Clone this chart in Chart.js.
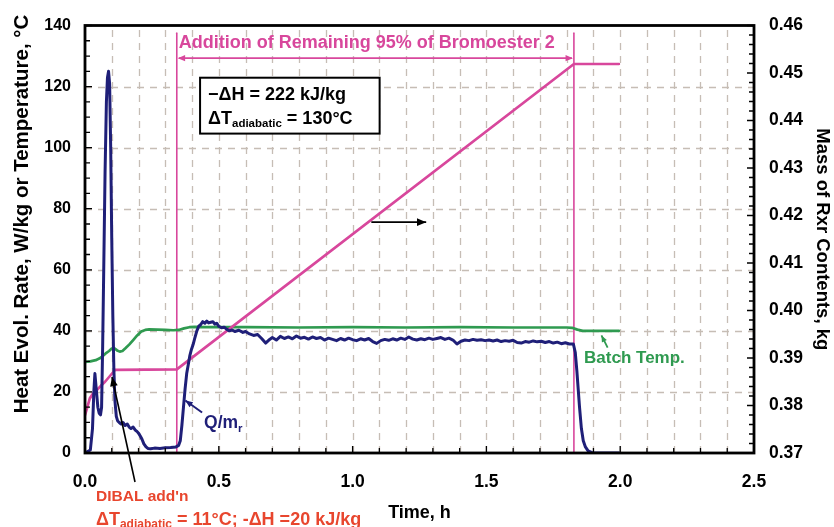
<!DOCTYPE html>
<html><head><meta charset="utf-8">
<script src="https://cdn.jsdelivr.net/npm/chart.js@4.4.1/dist/chart.umd.min.js"></script>
<style>html,body{margin:0;padding:0;background:#fff;}canvas{display:block;}</style>
</head><body>
<canvas id="c" width="834" height="527"></canvas>
<script>
// ---------- DATA ----------
const xTicks = [0.0, 0.5, 1.0, 1.5, 2.0, 2.5];
const yTicks = [0, 20, 40, 60, 80, 100, 120, 140];
const y1Ticks = [0.37, 0.38, 0.39, 0.40, 0.41, 0.42, 0.43, 0.44, 0.45, 0.46];

// Heat evolution rate Q/mr (W/kg), left axis
const qTime = [0,0.01,0.02,0.028,0.033,0.037,0.042,0.048,0.053,0.058,0.062,0.066,0.07,0.075,0.08,0.084,0.088,0.092,0.096,0.1,0.104,0.108,0.112,0.117,0.122,0.128,0.135,0.142,0.15,0.158,0.165,0.172,0.18,0.188,0.195,0.2,0.207,0.213,0.22,0.228,0.235,0.245,0.26,0.28,0.3,0.32,0.34,0.35,0.356,0.362,0.368,0.374,0.38,0.386,0.392,0.398,0.404,0.41,0.418,0.425,0.432,0.44,0.448,0.455,0.462,0.47,0.478,0.485,0.492,0.5,0.51,0.52,0.53,0.54,0.55,
0.56,0.575,0.59,0.6,0.615,0.63,0.645,0.66,0.675,0.69,0.7,0.715,0.73,0.745,0.76,0.775,0.79,0.805,0.82,0.835,0.85,0.865,0.88,0.895,0.91,0.925,0.94,0.955,0.97,0.985,1.0,1.015,1.03,1.045,1.06,1.075,1.09,1.105,1.12,1.135,1.15,1.165,1.18,1.195,1.21,1.225,1.24,1.255,1.27,1.285,1.3,1.315,1.33,1.345,1.36,1.375,1.39,1.405,1.42,1.435,1.45,1.465,1.48,1.495,1.51,1.525,1.54,1.555,1.57,1.585,1.6,1.615,1.63,1.645,1.66,1.675,1.69,1.705,1.72,1.735,1.75,1.765,1.78,1.795,1.81,1.825,1.832,1.838,1.843,1.848,1.855,1.862,1.87,1.88,1.895,1.91,1.995];
const qValue = [0,0.5,1,8,20,26,21,15,13,12.5,15,35,60,92,115,123,125,121,100,70,45,27,17,12,10.5,10,9.5,10,9,9.5,8.5,8,8.5,7.5,7,6.5,5.5,4.5,3,2,1.5,1.4,1.6,1.5,1.7,1.8,2,2.5,4,9,15,21,26,29,32,34,35.5,37.5,40,41.5,42,43,42.5,43.2,42.6,42.8,43,42.2,42.5,41.5,41,41.2,40.5,40,40.3,
39.8,40.2,39.5,39.8,39,38.5,38.8,37.5,36,37.2,37.8,37,38.2,37.5,38,37.4,38.3,37.6,37.9,37.3,38,37.5,37.8,37,37.6,37.2,36.8,37.5,37,37.6,37.1,36.8,37.4,37,37.5,36.5,35.9,36.8,37.2,36.9,37.4,37,37.6,37.2,38,37.3,37,37.4,37.1,37.6,37.2,37.5,37.8,37.2,37.6,37,35.7,36.6,37,36.8,37.2,36.9,37.1,36.8,37,36.7,37,36.5,36.8,36.6,36.9,36.2,36,36.5,36.3,36.7,36.4,36.6,36.2,36.5,36,36.3,35.8,36.1,35.7,35.7,33,27,21,15,8,4,2,0.7,0.1,0,0];

// Batch temperature (°C), left axis
const tempTime = [0,0.02,0.04,0.055,0.07,0.08,0.09,0.1,0.11,0.12,0.13,0.14,0.15,0.165,0.18,0.195,0.21,0.225,0.24,0.27,0.3,0.33,0.35,0.37,0.39,0.41,0.45,0.6,0.8,1.0,1.2,1.4,1.6,1.8,1.82,1.84,1.86,1.9,1.995];
const tempValue = [29.8,30,30.4,31,32,32.8,33.4,34.2,34.3,33.6,33.2,33.4,34.2,35.5,37,38.5,39.8,40.3,40.5,40.4,40.3,40.2,40.3,40.8,41.2,41.3,41.2,41.2,41.1,41.2,41.1,41.2,41.1,41.1,41,40.4,40,40,40];

// Mass of reactor contents (kg), right axis
const massTime = [0,0.008,0.018,0.03,0.045,0.06,0.075,0.09,0.105,0.112,0.343,1.827,1.995];
const massValue = [0.378,0.3795,0.3815,0.3825,0.3833,0.3842,0.385,0.386,0.387,0.3875,0.3876,0.4519,0.4519];

// Start / end of bromoester addition (h)
const additionStart = 0.343;
const additionEnd = 1.827;

// ---------- COLOURS ----------
const NAVY = '#1f1f78', GREEN = '#2f9a50', PINK = '#d8479c', RED = '#e8462e', GRID = '#c6bdb5';
const FONT = "'Liberation Sans', Arial, sans-serif";

const pts = (t, v) => t.map((x, i) => ({x, y: v[i]}));

function drawRich(ctx, x, y, parts) {
  let cx = x;
  for (const p of parts) {
    ctx.font = `bold ${p.size}px ${FONT}`;
    ctx.fillStyle = p.color;
    ctx.fillText(p.t, cx, y + (p.dy || 0));
    cx += ctx.measureText(p.t).width;
  }
}
function arrowHead(ctx, x1, y1, x2, y2, size, color) {
  const a = Math.atan2(y2 - y1, x2 - x1);
  ctx.fillStyle = color;
  ctx.beginPath();
  ctx.moveTo(x2, y2);
  ctx.lineTo(x2 - size * Math.cos(a - 0.4), y2 - size * Math.sin(a - 0.4));
  ctx.lineTo(x2 - size * Math.cos(a + 0.4), y2 - size * Math.sin(a + 0.4));
  ctx.closePath();
  ctx.fill();
}
function arrow(ctx, x1, y1, x2, y2, color, lw, size) {
  ctx.strokeStyle = color; ctx.lineWidth = lw;
  ctx.beginPath(); ctx.moveTo(x1, y1); ctx.lineTo(x2, y2); ctx.stroke();
  arrowHead(ctx, x1, y1, x2, y2, size, color);
}

const overlay = {
  id: 'overlay',
  beforeDatasetsDraw(chart) {
    const {ctx, chartArea: a, scales: {x, y}} = chart;
    ctx.save();
    ctx.strokeStyle = GRID; ctx.lineWidth = 1.3; ctx.setLineDash([7, 6]);
    ctx.beginPath();
    for (let k = 1; k < 25; k++) {
      const px = Math.round(x.getPixelForValue(k * 0.1)) + 0.5;
      ctx.moveTo(px, a.bottom); ctx.lineTo(px, a.top);
    }
    for (const v of yTicks) {
      if (v === 0 || v === 140) continue;
      const py = Math.round(y.getPixelForValue(v)) + 0.5;
      ctx.moveTo(a.left, py); ctx.lineTo(a.right, py);
    }
    ctx.stroke();
    ctx.restore();
  },
  afterDatasetsDraw(chart) {
    const {ctx, chartArea: a, scales: {x, y, y1}} = chart;
    ctx.save();
    // minor ticks
    ctx.strokeStyle = '#000'; ctx.lineWidth = 1.3;
    ctx.beginPath();
    for (let v = 0; v <= 140.001; v += 5) {
      const py = y.getPixelForValue(v);
      ctx.moveTo(a.left, py); ctx.lineTo(a.left + (v % 20 === 0 ? 7 : 5), py);
    }
    for (let k = 0; k <= 45; k++) {
      const py = y1.getPixelForValue(0.37 + k * 0.002);
      ctx.moveTo(a.right, py); ctx.lineTo(a.right - (k % 5 === 0 ? 7 : 5), py);
    }
    for (let k = 0; k <= 25; k++) {
      const px = x.getPixelForValue(k * 0.1);
      ctx.moveTo(px, a.bottom); ctx.lineTo(px, a.bottom - (k % 5 === 0 ? 7 : 5));
    }
    ctx.stroke();
    // frame
    ctx.lineWidth = 2.8;
    ctx.strokeRect(a.left, a.top, a.right - a.left, a.bottom - a.top);

    ctx.textBaseline = 'alphabetic';
    // addition arrow and text
    const xs = x.getPixelForValue(additionStart), xe = x.getPixelForValue(additionEnd);
    const ya = y.getPixelForValue(129.3);
    ctx.strokeStyle = PINK; ctx.lineWidth = 1.6;
    ctx.beginPath(); ctx.moveTo(xs + 2, ya); ctx.lineTo(xe - 2, ya); ctx.stroke();
    arrowHead(ctx, xe, ya, xs + 1, ya, 8, PINK);
    arrowHead(ctx, xs, ya, xe - 1, ya, 8, PINK);
    drawRich(ctx, xs + 2, y.getPixelForValue(132.5), [{t: 'Addition of Remaining 95% of Bromoester 2', size: 18, color: PINK}]);

    // box
    const bx1 = x.getPixelForValue(0.43), bx2 = x.getPixelForValue(1.101);
    const by1 = y.getPixelForValue(122.9), by2 = y.getPixelForValue(104.6);
    ctx.fillStyle = '#fff';
    ctx.fillRect(bx1, by1, bx2 - bx1, by2 - by1);
    ctx.strokeStyle = '#000'; ctx.lineWidth = 2;
    ctx.strokeRect(bx1, by1, bx2 - bx1, by2 - by1);
    drawRich(ctx, bx1 + 8, by1 + 22, [{t: '\u2212\u0394H = 222 kJ/kg', size: 18, color: '#000'}]);
    drawRich(ctx, bx1 + 8, by1 + 46, [
      {t: '\u0394T', size: 18, color: '#000'},
      {t: 'adiabatic', size: 11.5, color: '#000', dy: 3},
      {t: ' = 130\u00B0C', size: 18, color: '#000'}]);

    // black arrow toward right axis
    arrow(ctx, x.getPixelForValue(1.07), y.getPixelForValue(75.6), x.getPixelForValue(1.275), y.getPixelForValue(75.6), '#000', 1.8, 10);

    // Q/mr label
    const qx = x.getPixelForValue(0.445), qy = y.getPixelForValue(10.3);
    arrow(ctx, qx - 2, qy - 9, x.getPixelForValue(0.375), y.getPixelForValue(17.2), NAVY, 2, 8);
    drawRich(ctx, qx, qy + 6, [{t: 'Q/m', size: 17.5, color: NAVY}, {t: 'r', size: 11.5, color: NAVY, dy: 4}]);

    // Batch temp label
    const bx = x.getPixelForValue(1.865), byy = y.getPixelForValue(31.3);
    arrow(ctx, x.getPixelForValue(1.953), y.getPixelForValue(34.5), x.getPixelForValue(1.93), y.getPixelForValue(38.5), GREEN, 1.8, 7);
    drawRich(ctx, bx, byy + 6, [{t: 'Batch Temp.', size: 17, color: GREEN}]);

    // DIBAL label (below axis)
    arrow(ctx, 135, 482, 112, 377, '#000', 1.6, 10);
    drawRich(ctx, 96, 501, [{t: "DIBAL add'n", size: 15.5, color: RED}]);
    drawRich(ctx, 96, 525, [
      {t: '\u0394T', size: 18, color: RED},
      {t: 'adiabatic', size: 12, color: RED, dy: 3},
      {t: ' = 11\u00B0C; -\u0394H =20 kJ/kg', size: 18, color: RED}]);

    // left axis title
    ctx.save();
    ctx.translate(22, 214);
    ctx.rotate(-Math.PI / 2);
    ctx.font = `bold 20.5px ${FONT}`;
    ctx.fillStyle = '#000';
    ctx.textAlign = 'center'; ctx.textBaseline = 'middle';
    ctx.fillText('Heat Evol. Rate, W/kg or Temperature, \u00B0C', 0, 0);
    ctx.restore();
    ctx.restore();
  }
};

const tickFont = {family: FONT, size: 16, weight: 'bold'};
const tickFontBig = {family: FONT, size: 17.5, weight: 'bold'};

new Chart(document.getElementById('c'), {
  type: 'line',
  data: {
    datasets: [
      {label: 'Q/mr', data: pts(qTime, qValue), yAxisID: 'y', borderColor: NAVY, borderWidth: 3},
      {label: 'Mass', data: pts(massTime, massValue), yAxisID: 'y1', borderColor: PINK, borderWidth: 2.7},
      {label: 'Batch Temp.', data: pts(tempTime, tempValue), yAxisID: 'y', borderColor: GREEN, borderWidth: 2.7},
      {label: 'start', data: pts([additionStart, additionStart], [0, 137.5]), yAxisID: 'y', borderColor: PINK, borderWidth: 1.6},
      {label: 'end', data: pts([additionEnd, additionEnd], [0, 137.5]), yAxisID: 'y', borderColor: PINK, borderWidth: 1.6}
    ]
  },
  options: {
    responsive: false, animation: false, devicePixelRatio: 1,
    layout: {padding: {top: 20, left: 0, right: 0, bottom: 0}},
    elements: {point: {radius: 0}, line: {tension: 0, fill: false, borderCapStyle: 'round', borderJoinStyle: 'round'}},
    plugins: {legend: {display: false}, tooltip: {enabled: false}},
    scales: {
      x: {
        type: 'linear', min: 0, max: 2.5,
        afterFit: s => { s.height = 74; },
        afterBuildTicks: s => { s.ticks = xTicks.map(v => ({value: v})); },
        ticks: {autoSkip: false, maxRotation: 0, font: tickFontBig, color: '#000', padding: 19,
          callback: v => Number(v).toFixed(1)},
        grid: {display: false, drawTicks: false},
        border: {display: false},
        title: {display: true, text: 'Time, h', font: {family: FONT, size: 18, weight: 'bold'}, color: '#000', padding: {top: 0, bottom: 3}}
      },
      y: {
        type: 'linear', position: 'left', min: 0, max: 140,
        afterFit: s => { s.width = 85; },
        afterBuildTicks: s => { s.ticks = yTicks.map(v => ({value: v})); },
        ticks: {font: tickFont, color: '#000', padding: 14},
        grid: {display: false, drawTicks: false},
        border: {display: false}
      },
      y1: {
        type: 'linear', position: 'right', min: 0.37, max: 0.46,
        afterFit: s => { s.width = 80; },
        afterBuildTicks: s => { s.ticks = y1Ticks.map(v => ({value: v})); },
        ticks: {font: tickFontBig, color: '#000', padding: 15, callback: v => Number(v).toFixed(2)},
        grid: {display: false, drawTicks: false},
        border: {display: false},
        title: {display: true, text: 'Mass of Rxr Contents, kg', font: {family: FONT, size: 18.5, weight: 'bold'}, color: '#000', padding: {top: 1, bottom: 0}}
      }
    }
  },
  plugins: [overlay]
});
</script></body></html>
